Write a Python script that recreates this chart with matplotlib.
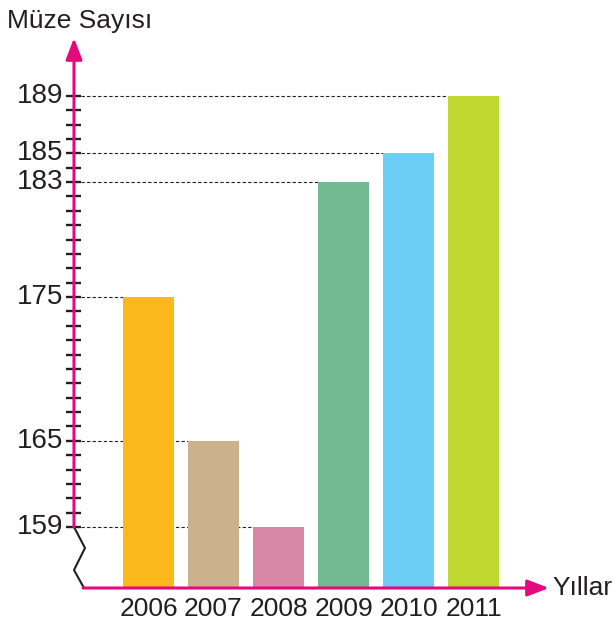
import numpy as np
import matplotlib
matplotlib.use("Agg")
import matplotlib.pyplot as plt

# ---- data ----
years = ["2006", "2007", "2008", "2009", "2010", "2011"]
museums = [175, 165, 159, 183, 185, 189]
bar_colors = ["#FBB81A", "#CCB18F", "#D587A4", "#73B991", "#6CCEF5", "#BED731"]
labeled_ticks = [159, 165, 175, 183, 185, 189]
tick_min, tick_max = 159, 189

# ---- style / layout (pixel calibration of the 614x628 canvas) ----
MAGENTA = "#E5097F"
INK = "#231F20"
W, H = 614, 628
X0_PX, DX_PX = 148.5, 65.0     # centre of first bar, bar pitch
Y0_PX, DY_PX = 527.0, 14.37    # pixel row of tick_min, pixels per museum


def px(x):
    return (x - X0_PX) / DX_PX


def py(y):
    return tick_min + (Y0_PX - y) / DY_PX


plt.rcParams["font.family"] = ["Liberation Sans", "DejaVu Sans"]
fig = plt.figure(figsize=(W / 100, H / 100), dpi=100)
ax = fig.add_axes([0, 0, 1, 1])
ax.set_xlim(px(0), px(W))
ax.set_ylim(py(H), py(0))
ax.axis("off")

base = py(588)
bw = 51 / DX_PX
x = np.arange(len(years))
ax.bar(x, np.array(museums) - base, bottom=base, width=bw,
       color=bar_colors, zorder=2)

# dashed guides from the axis to each bar
for i, v in enumerate(museums):
    ax.plot([px(81), i - bw / 2], [v, v], ls=(0, (3, 2)), color=INK,
            lw=0.8, zorder=1)

# tick marks every museum
for v in range(tick_min, tick_max + 1):
    ax.plot([px(66.5), px(81.5)], [v, v], color=INK, lw=1.7,
            solid_capstyle="butt", zorder=3)
for v in labeled_ticks:
    ax.text(px(63), v, str(v), ha="right", va="center", fontsize=20,
            color=INK)

# y axis with arrow
ax.annotate("", xy=(px(74), py(38)), xytext=(px(74), tick_min),
            arrowprops=dict(arrowstyle="-|>,head_length=1.3,head_width=0.5",
                            color=MAGENTA, lw=2.2, mutation_scale=10,
                            shrinkA=0, shrinkB=0), zorder=4)
# broken-axis zigzag
ax.plot([px(74), px(85), px(74), px(84)],
        [py(527), py(548), py(570), py(588)], color=INK, lw=1.5, zorder=3)
# x axis with arrow
ax.annotate("", xy=(px(549), base), xytext=(px(83), base),
            arrowprops=dict(arrowstyle="-|>,head_length=1.3,head_width=0.5",
                            color=MAGENTA, lw=2.2, mutation_scale=10,
                            shrinkA=0, shrinkB=0), zorder=4)

for i, yr in enumerate(years):
    ax.text(i, py(597), yr, ha="center", va="top", fontsize=19, color=INK)

ax.text(px(7), py(28), "Müze Sayısı", ha="left", va="baseline",
        fontsize=19, color=INK)
ax.text(px(552), base, "Yıllar", ha="left", va="center", fontsize=19,
        color=INK)

fig.savefig("out.png", dpi=100)
